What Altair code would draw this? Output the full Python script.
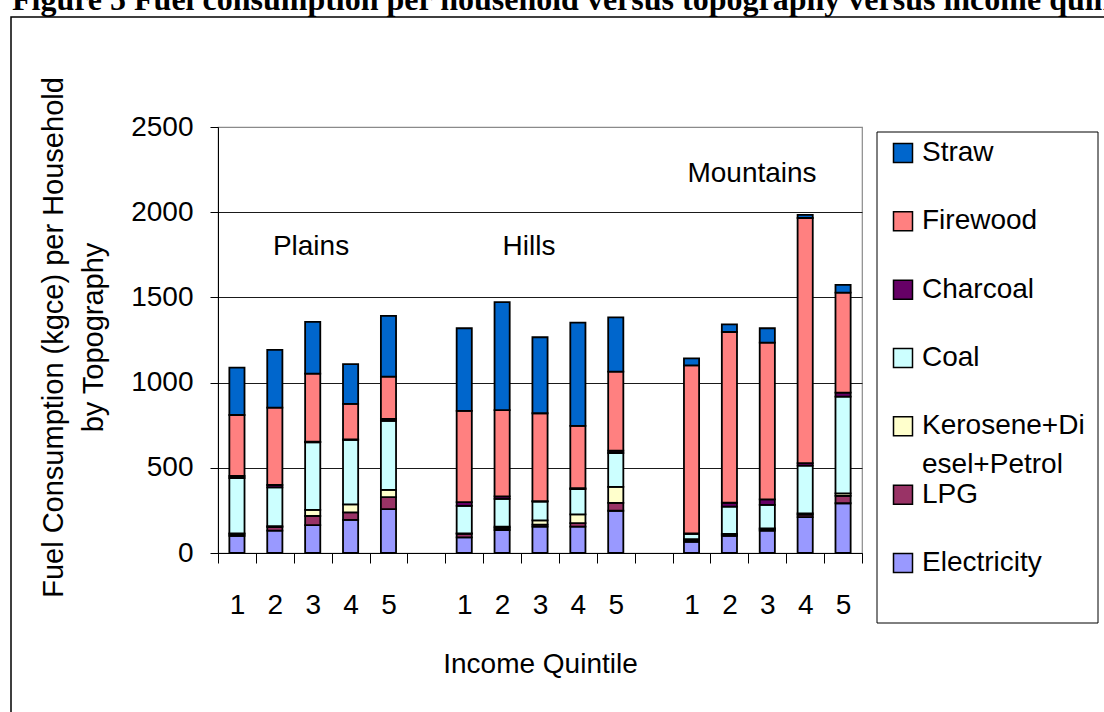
import altair as alt
import pandas as pd

# ---------------- data ----------------
topographies = ["Plains", "Hills", "Mountains"]
quintiles = ["1", "2", "3", "4", "5"]

# stacking order, bottom to top
fuels = ["Electricity", "LPG", "Kerosene+Diesel+Petrol", "Coal", "Charcoal", "Firewood", "Straw"]
fuel_colors = ["#9999FF", "#993366", "#FFFFCC", "#CCFFFF", "#660066", "#FF8080", "#0066CC"]

# values per fuel: Plains 1-5, Hills 1-5, Mountains 1-5 (kgce per household)
electricity = [100, 131, 164, 194, 258, 92, 135, 155, 155, 248, 66, 100, 131, 210, 292]
lpg = [10, 21, 53, 44, 70, 21, 12, 12, 20, 46, 10, 8, 8, 15, 43]
kerosene = [5, 6, 36, 47, 42, 2, 8, 24, 52, 94, 6, 4, 6, 8, 15]
coal = [325, 227, 397, 379, 405, 161, 163, 111, 148, 199, 30, 160, 137, 280, 568]
charcoal = [12, 14, 3, 3, 12, 22, 14, 3, 5, 13, 3, 23, 33, 14, 23]
firewood = [358, 454, 400, 208, 248, 536, 506, 515, 366, 464, 986, 1002, 920, 1439, 587]
straw = [278, 339, 303, 233, 356, 485, 634, 446, 606, 319, 41, 45, 84, 18, 45]

series = [electricity, lpg, kerosene, coal, charcoal, firewood, straw]

legend_fuels = ["Straw", "Firewood", "Charcoal", "Coal", "Kerosene+Diesel+Petrol", "LPG", "Electricity"]
legend_line1 = ["Straw", "Firewood", "Charcoal", "Coal", "Kerosene+Di", "LPG", "Electricity"]
legend_line2 = ["", "", "", "", "esel+Petrol", "", ""]

annotation_labels = ["Plains", "Hills", "Mountains"]
annotation_levels = [1749, 1749, 2177]

y_ticks = [0, 500, 1000, 1500, 2000, 2500]
x_title = "Income Quintile"
y_title = ["Fuel Consumption (kgce) per Household", "by Topography"]
figure_title = "Figure 5 Fuel consumption per household versus topography versus income quintile"

# ---------------- tables ----------------
slots = []
for i, t in enumerate(topographies):
    if i > 0:
        slots.append("gap%d" % i)
    slots += [t[0] + q for q in quintiles]

rows = []
for f_i, (f, vals) in enumerate(zip(fuels, series)):
    for k, v in enumerate(vals):
        t = topographies[k // 5]
        q = quintiles[k % 5]
        rows.append({"slot": t[0] + q, "fuel": f, "value": v, "ord": f_i,
                     "topography": t, "quintile": q})
df = pd.DataFrame(rows)

legend_df = pd.DataFrame({"fuel": legend_fuels, "line1": legend_line1, "line2": legend_line2})

# ---------------- layout ----------------
W, H = 644, 426
FONT = "Liberation Sans"

x_scale = alt.Scale(domain=slots, paddingInner=0, paddingOuter=0)
y_scale = alt.Scale(domain=[0, 2500], nice=False)
color_scale = alt.Scale(domain=fuels, range=fuel_colors)
legend_y = alt.Scale(type="point", domain=legend_fuels, range=[26, 436], padding=0)

x_axis = alt.Axis(
    title=x_title,
    labelExpr="isValid(datum.value) ? (indexof(datum.value, 'gap') == 0 ? '' : substring(datum.value, 1)) : ''",
    labelAngle=0, labelFontSize=28, labelPadding=28,
    labelColor="black", tickSize=10, tickBand="extent", tickColor="black",
    domainColor="black", grid=False,
    titleFontSize=28, titleFontWeight="normal", titleColor="black", titlePadding=31)

bars = alt.Chart(df).mark_bar(
    stroke="black", strokeWidth=1.8, width=alt.RelativeBandSize(0.4)).encode(
    x=alt.X("slot:N", scale=x_scale, sort=slots, axis=x_axis),
    y=alt.Y("value:Q", stack="zero", scale=y_scale, axis=alt.Axis(
        values=y_ticks, format="d", title=y_title,
        labelFontSize=28, labelPadding=17, labelColor="black",
        tickSize=8, tickColor="black", domainColor="black",
        grid=True,
        gridColor={"condition": {"test": "datum.value >= 2500", "value": "#8a8a8a"}, "value": "#1a1a1a"},
        titleFontSize=29, titleFontWeight="normal", titleColor="black",
        titleAngle=270, titleBaseline="alphabetic", titleAlign="center",
        titleX=-156, titleY=210, titleLineHeight=40)),
    color=alt.Color("fuel:N", scale=color_scale, legend=None),
    order=alt.Order("ord:Q", sort="ascending"),
    tooltip=["topography:N", "quintile:N", "fuel:N", "value:Q"],
)

# annotation text positions (pixels from plot's left edge)
annot_px = [93, 311, 534]
annots = []
for lab, lv, px in zip(annotation_labels, annotation_levels, annot_px):
    adf = pd.DataFrame({"label": [lab], "level": [lv]})
    annots.append(
        alt.Chart(adf).mark_text(fontSize=28, baseline="alphabetic", align="center",
                                 color="black", font=FONT).encode(
            x=alt.value(px),
            y=alt.Y("level:Q", scale=y_scale, axis=None),
            text="label:N",
        )
    )

frame = alt.Chart(pd.DataFrame({"k": [0]})).mark_rect(
    fillOpacity=0, stroke="black", strokeWidth=1.5).encode(
    x=alt.value(-207), x2=alt.value(950), y=alt.value(-110), y2=alt.value(650))

title_mark = alt.Chart(pd.DataFrame({"t": [figure_title]})).mark_text(
    font="Liberation Serif", fontWeight="bold", fontSize=32, align="left",
    baseline="alphabetic", color="black").encode(
    x=alt.value(-206), y=alt.value(-117), text="t:N")

legend_box = alt.Chart(pd.DataFrame({"k": [0]})).mark_rect(
    fill="white", stroke="black", strokeWidth=1).encode(
    x=alt.value(659), x2=alt.value(880), y=alt.value(5), y2=alt.value(496))

legend_sq = alt.Chart(legend_df).mark_square(
    size=361, opacity=1, stroke="black", strokeWidth=1.5).encode(
    x=alt.value(685),
    y=alt.Y("fuel:N", scale=legend_y, axis=None),
    color=alt.Color("fuel:N", scale=color_scale, legend=None),
)

legend_t1 = alt.Chart(legend_df).mark_text(
    align="left", baseline="middle", fontSize=28, color="black", font=FONT).encode(
    x=alt.value(704),
    y=alt.Y("fuel:N", scale=legend_y, axis=None),
    text="line1:N",
)

legend_t2 = alt.Chart(legend_df).transform_filter("datum.line2 != ''").mark_text(
    align="left", baseline="middle", fontSize=28, color="black", font=FONT, dy=39).encode(
    x=alt.value(704),
    y=alt.Y("fuel:N", scale=legend_y, axis=None),
    text="line2:N",
)

chart = alt.layer(
    bars, *annots, frame, title_mark, legend_box, legend_sq, legend_t1, legend_t2
).resolve_scale(y="independent").properties(
    width=W, height=H,
    padding={"left": 218, "top": 127, "right": 242, "bottom": 159},
    autosize=alt.AutoSizeParams(type="none"),
).configure(font=FONT).configure_view(stroke="#8a8a8a", strokeWidth=1.2)

chart.save("out.html", embed_options={"renderer": "svg", "actions": False})
